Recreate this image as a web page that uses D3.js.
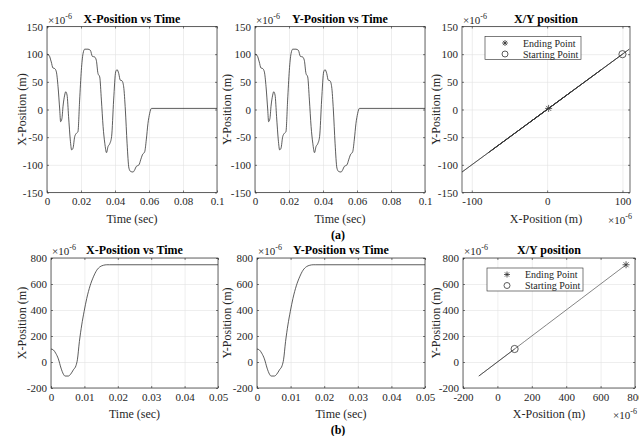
<!DOCTYPE html>
<html>
<head>
<meta charset="utf-8">
<script src="https://cdn.jsdelivr.net/npm/d3@7"></script>
<style>
  body { margin: 0; background: #fff; }
  svg { display: block; }
  svg text { font-family: "Liberation Serif", "Times New Roman", serif; }
  .grid line { stroke: #e3e3e3; stroke-width: 0.6; }
  .grid .domain { display: none; }
  .ax line { stroke: #262626; stroke-width: 0.6; }
  .ax .domain { display: none; }
</style>
</head>
<body>
<svg id="fig" width="639" height="436"></svg>
<script>
// (a) trajectory, X and Y identical (micrometres)
var timeA = [0, 0.0012, 0.0025, 0.0035, 0.0045, 0.0055, 0.0065, 0.0075, 0.008, 0.0088,
             0.0094, 0.0104, 0.011, 0.0118, 0.0127, 0.0137, 0.0145, 0.0153, 0.0163, 0.0173,
             0.0182, 0.0192, 0.0202, 0.0212, 0.0222, 0.0241, 0.0255, 0.0267, 0.028, 0.029,
             0.03, 0.031, 0.032, 0.033, 0.034, 0.035, 0.0359, 0.0369, 0.038, 0.0392,
             0.0404, 0.0412, 0.0422, 0.0431, 0.0441, 0.0451, 0.0461, 0.0471, 0.0482, 0.0492,
             0.0506, 0.0516, 0.0525, 0.0541, 0.0551, 0.0561, 0.0575, 0.0584, 0.0594, 0.0604,
             0.0614, 0.1];
var posA = [100, 98, 86, 75, 74, 68, 41, -1, -22, -16,
            5, 26, 32, 26, -13, -55, -73, -70, -49, -43,
            -40, 17, 71, 101, 109, 109, 107, 96, 95, 89,
            65, 59, 17, -31, -61, -78, -67, -62, -49, 17,
            68, 72, 65, 53, 52, 41, -1, -61, -106, -112,
            -113, -109, -103, -100, -91, -82, -76, -55, -25, -7,
            2, 2];

// (b) trajectory, X and Y identical
var timeB = [0, 0.0007, 0.0014, 0.0022, 0.003, 0.0037, 0.0042, 0.0052, 0.0059, 0.0067,
             0.0075, 0.0079, 0.0085, 0.0092, 0.0099, 0.0107, 0.0117, 0.0127, 0.0137, 0.0147,
             0.0157, 0.0167, 0.0175, 0.05];
var posB = [100, 93, 68, 24, -47, -93, -108, -108, -93, -60,
            -26, 17, 157, 285, 387, 489, 586, 655, 706, 733,
            744, 748, 748, 748];

// tick labels
var timeTicksA = [0, 0.02, 0.04, 0.06, 0.08, 0.1];
var posTicksA = [-150, -100, -50, 0, 50, 100, 150];
var xyTicksA = [-100, 0, 100];
var timeTicksB = [0, 0.01, 0.02, 0.03, 0.04, 0.05];
var posTicksB = [-200, 0, 200, 400, 600, 800];

var svg = d3.select("#fig");
var ink = "#262626";
var serif = "'Liberation Serif', 'Times New Roman', serif";

// panel boxes (plot area in pixels)
var topY = [26.5, 192.5], botY = [258, 388];

var panels = [
  {x0: 47, x1: 217, y: topY, title: "X-Position vs Time", xl: "Time (sec)", yl: "X-Position (m)",
   xd: [0, 0.1], yd: [-150, 150], xt: timeTicksA, yt: posTicksA, xs: timeA, ys: posA},
  {x0: 255, x1: 425, y: topY, title: "Y-Position vs Time", xl: "Time (sec)", yl: "Y-Position (m)",
   xd: [0, 0.1], yd: [-150, 150], xt: timeTicksA, yt: posTicksA, xs: timeA, ys: posA},
  {x0: 462, x1: 630, y: topY, title: "X/Y position", xl: "X-Position (m)", yl: "Y-Position (m)",
   xd: [-113, 110], yd: [-150, 150], xt: xyTicksA, yt: posTicksA, xs: posA, ys: posA, xy: true},
  {x0: 51, x1: 218, y: botY, title: "X-Position vs Time", xl: "Time (sec)", yl: "X-Position (m)",
   xd: [0, 0.05], yd: [-200, 800], xt: timeTicksB, yt: posTicksB, xs: timeB, ys: posB},
  {x0: 257, x1: 425, y: botY, title: "Y-Position vs Time", xl: "Time (sec)", yl: "Y-Position (m)",
   xd: [0, 0.05], yd: [-200, 800], xt: timeTicksB, yt: posTicksB, xs: timeB, ys: posB},
  {x0: 463, x1: 635, y: botY, title: "X/Y position", xl: "X-Position (m)", yl: "Y-Position (m)",
   xd: [-200, 800], yd: [-200, 800], xt: posTicksB, yt: posTicksB, xs: posB, ys: posB, xy: true}
];

function fmt(d) { return String(+d.toFixed(4)); }

function styleAxis(sel) {
  sel.attr("font-family", serif).attr("font-size", 11);
  sel.selectAll("text").attr("fill", ink).style("font-family", serif).style("font-size", "11px");
}

function expLabel(g, x, y, anchor) {
  var t = g.append("text").attr("x", x).attr("y", y).attr("text-anchor", anchor || "start")
    .attr("fill", ink).style("font-size", "11px");
  t.append("tspan").text("\u00d710");
  t.append("tspan").attr("dy", -5).style("font-size", "8px").text("-6");
}

panels.forEach(function(p, i) {
  var w = p.x1 - p.x0, h = p.y[1] - p.y[0];
  var g = svg.append("g").attr("transform", "translate(" + p.x0 + "," + p.y[0] + ")");
  var x = d3.scaleLinear().domain(p.xd).range([0, w]);
  var y = d3.scaleLinear().domain(p.yd).range([h, 0]);

  g.append("rect").attr("width", w).attr("height", h).attr("fill", "#fff");

  // grid
  g.append("g").attr("class", "grid").attr("transform", "translate(0," + h + ")")
    .call(d3.axisBottom(x).tickValues(p.xt).tickSize(-h).tickFormat(""));
  g.append("g").attr("class", "grid")
    .call(d3.axisLeft(y).tickValues(p.yt).tickSize(-w).tickFormat(""));

  // axes with inward ticks, mirrored on top/right
  g.append("g").attr("class", "ax").attr("transform", "translate(0," + h + ")")
    .call(d3.axisBottom(x).tickValues(p.xt).tickSizeInner(-2).tickSizeOuter(0).tickPadding(5).tickFormat(fmt))
    .call(styleAxis);
  g.append("g").attr("class", "ax")
    .call(d3.axisLeft(y).tickValues(p.yt).tickSizeInner(-2).tickSizeOuter(0).tickPadding(4).tickFormat(fmt))
    .call(styleAxis);
  g.append("g").attr("class", "ax")
    .call(d3.axisTop(x).tickValues(p.xt).tickSizeInner(-2).tickSizeOuter(0).tickFormat(""));
  g.append("g").attr("class", "ax").attr("transform", "translate(" + w + ",0)")
    .call(d3.axisRight(y).tickValues(p.yt).tickSizeInner(-2).tickSizeOuter(0).tickFormat(""));

  // data line
  var clipId = "clip" + i;
  g.append("clipPath").attr("id", clipId).append("rect").attr("width", w).attr("height", h);
  var pts = p.xs.map(function(v, k) { return [v, p.ys[k]]; });
  var line = d3.line().x(function(d) { return x(d[0]); }).y(function(d) { return y(d[1]); });
  if (!p.xy) line.curve(d3.curveMonotoneX);
  g.append("path").datum(pts).attr("clip-path", "url(#" + clipId + ")")
    .attr("d", line).attr("fill", "none").attr("stroke", "#333")
    .attr("stroke-width", p.xy ? 0.6 : 0.8);

  // frame
  g.append("rect").attr("width", w).attr("height", h).attr("fill", "none")
    .attr("stroke", ink).attr("stroke-width", 0.7);

  // titles and labels
  g.append("text").attr("x", w / 2).attr("y", -4).attr("text-anchor", "middle")
    .style("font-size", "12px").style("font-weight", "bold").attr("fill", "#000").text(p.title);
  g.append("text").attr("x", w / 2).attr("y", h + 30).attr("text-anchor", "middle")
    .style("font-size", "12px").attr("fill", ink).text(p.xl);
  var ylx = (i % 3 === 0 ? 22 : (i % 3 === 1 ? 227 : 436)) - p.x0;
  g.append("text").attr("transform", "translate(" + (ylx + 4) + "," + (h / 2) + ")rotate(-90)")
    .attr("text-anchor", "middle").style("font-size", "12px").attr("fill", ink).text(p.yl);

  expLabel(g, 1, -3);

  if (p.xy) {
    expLabel(g, w + 2, h + 31, "end");

    var first = pts[0], last = pts[pts.length - 1];
    // starting point circle
    g.append("circle").attr("cx", x(first[0])).attr("cy", y(first[1])).attr("r", 3.6)
      .attr("fill", "none").attr("stroke", "#333").attr("stroke-width", 0.8);
    drawStar(g, x(last[0]), y(last[1]), 3.5);

    // legend
    var lg = g.append("g").attr("transform", "translate(" + (485 - p.x0 + (p.x1 === 635 ? 2 : 0)) + ",10)");
    lg.append("rect").attr("width", 96).attr("height", 23).attr("fill", "#fff")
      .attr("stroke", ink).attr("stroke-width", 0.6);
    drawStar(lg, 20, 6.5, 3);
    lg.append("circle").attr("cx", 20).attr("cy", 17.5).attr("r", 3)
      .attr("fill", "none").attr("stroke", "#333").attr("stroke-width", 0.8);
    lg.append("text").attr("x", 38).attr("y", 10).style("font-size", "10px").attr("fill", ink).text("Ending Point");
    lg.append("text").attr("x", 38).attr("y", 21).style("font-size", "10px").attr("fill", ink).text("Starting Point");
  }
});

function drawStar(g, cx, cy, r) {
  var s = g.append("g").attr("transform", "translate(" + cx + "," + cy + ")")
    .attr("stroke", "#333").attr("stroke-width", 0.8);
  [0, 45, 90, 135].forEach(function(a) {
    var rad = a * Math.PI / 180;
    s.append("line").attr("x1", -r * Math.cos(rad)).attr("y1", -r * Math.sin(rad))
      .attr("x2", r * Math.cos(rad)).attr("y2", r * Math.sin(rad));
  });
}

// sub-figure captions
svg.append("text").attr("x", 338).attr("y", 239).attr("text-anchor", "middle")
  .style("font-size", "12px").style("font-weight", "bold").text("(a)");
svg.append("text").attr("x", 338).attr("y", 434).attr("text-anchor", "middle")
  .style("font-size", "12px").style("font-weight", "bold").text("(b)");
</script>
</body>
</html>
